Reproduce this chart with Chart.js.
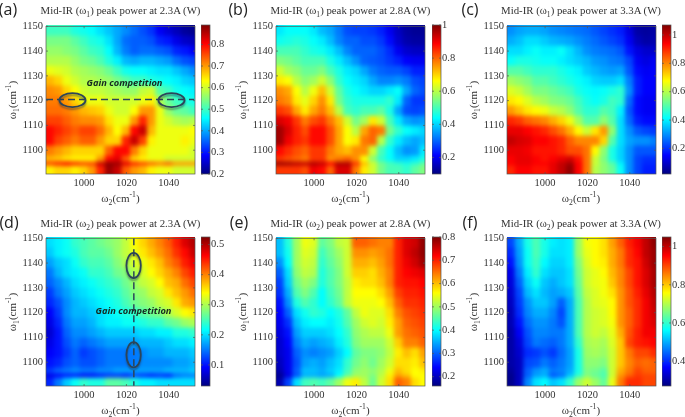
<!DOCTYPE html>
<html>
<head>
<meta charset="utf-8">
<title>Mid-IR peak power maps</title>
<script src="https://cdn.jsdelivr.net/npm/chart.js@4"></script>
<style>
	body { margin: 0; background: #fff; overflow: hidden; }
	#page { position: relative; width: 685px; height: 417px; font-family: "Liberation Serif", serif; color: #222; }
	canvas { position: absolute; }
	.heat { position: absolute; overflow: hidden; }
	.heat canvas { filter: blur(2px); }
	.txt { position: absolute; white-space: nowrap; line-height: 1; transform: translate(-50%, -50%); }
	.title { font-size: 10.8px; color: #333; }
	.axis { font-size: 11px; color: #333; }
	.yaxis { transform: translate(-50%, -50%) rotate(-90deg); }
	.letter { font-family: "Open Sans", sans-serif; font-size: 16px; color: #222; }
	.gain { font-family: "Open Sans", sans-serif; font-weight: 700; font-style: italic; font-size: 9.3px; color: #16281f; }
	sub, sup { font-size: 0.7em; line-height: 0; }
</style>
</head>
<body>
<div id="page"></div>
<script>
// wavenumbers of the map cells
const omega2 = [984, 988, 992, 996, 1000, 1004, 1008, 1012, 1016, 1020, 1024, 1028, 1032, 1036, 1040, 1044, 1048, 1052];
const omega1Edges = [1150, 1146, 1142, 1138, 1134, 1130, 1126, 1122, 1118, 1114, 1110, 1106, 1102, 1098, 1095.6, 1094, 1090];

const xTicks = [1000, 1020, 1040];
const yTicks = [1100, 1110, 1120, 1130, 1140, 1150];

const powerA = [
	[.50,.50,.50,.48,.47,.46,.44,.42,.40,.38,.36,.34,.32,.28,.26,.24,.22,.21],
	[.54,.54,.54,.52,.50,.48,.47,.44,.40,.36,.35,.35,.34,.31,.30,.27,.25,.24],
	[.56,.56,.55,.54,.52,.50,.49,.46,.41,.37,.35,.36,.36,.35,.34,.31,.30,.28],
	[.58,.58,.58,.56,.54,.53,.51,.48,.45,.41,.40,.41,.41,.40,.39,.36,.34,.33],
	[.62,.61,.60,.58,.57,.56,.55,.53,.50,.47,.46,.46,.45,.44,.44,.42,.40,.38],
	[.68,.66,.62,.60,.58,.58,.57,.56,.54,.52,.50,.50,.48,.47,.46,.45,.43,.42],
	[.71,.70,.66,.63,.60,.59,.59,.58,.57,.56,.56,.59,.60,.52,.50,.47,.46,.45],
	[.72,.72,.70,.66,.62,.62,.62,.60,.60,.60,.60,.62,.64,.58,.53,.50,.48,.47],
	[.73,.73,.72,.70,.68,.67,.66,.62,.60,.60,.63,.70,.70,.62,.56,.53,.52,.50],
	[.76,.76,.74,.72,.71,.71,.70,.65,.62,.62,.70,.78,.70,.62,.60,.58,.57,.58],
	[.80,.78,.76,.74,.76,.76,.73,.68,.63,.68,.80,.84,.68,.62,.62,.62,.62,.63],
	[.80,.76,.74,.72,.74,.74,.70,.66,.66,.78,.84,.76,.64,.62,.62,.62,.64,.62],
	[.72,.70,.68,.66,.66,.66,.66,.74,.80,.80,.72,.66,.62,.62,.62,.62,.62,.60],
	[.68,.67,.65,.64,.64,.64,.70,.80,.82,.74,.66,.64,.62,.62,.60,.60,.60,.60],
	[.76,.78,.80,.78,.76,.76,.84,.88,.87,.82,.78,.76,.74,.72,.74,.70,.70,.70],
	[.64,.66,.66,.64,.66,.70,.78,.87,.84,.74,.70,.68,.64,.62,.62,.60,.60,.60]
];
const powerB = [
	[.42,.44,.44,.44,.42,.38,.36,.32,.28,.27,.27,.26,.24,.20,.16,.13,.12,.12],
	[.45,.46,.47,.46,.44,.42,.38,.33,.30,.30,.28,.28,.26,.22,.17,.14,.13,.13],
	[.50,.50,.50,.48,.46,.45,.42,.38,.33,.30,.30,.30,.28,.25,.20,.17,.16,.16],
	[.55,.54,.52,.50,.50,.50,.46,.42,.38,.34,.30,.29,.28,.26,.24,.21,.20,.20],
	[.62,.58,.56,.53,.53,.55,.50,.46,.42,.40,.36,.32,.30,.29,.29,.27,.24,.24],
	[.68,.66,.60,.56,.58,.62,.56,.48,.44,.42,.40,.36,.33,.33,.34,.32,.28,.27],
	[.76,.74,.66,.60,.65,.72,.62,.52,.46,.44,.42,.40,.40,.42,.44,.36,.30,.28],
	[.78,.76,.68,.64,.70,.76,.68,.54,.48,.46,.46,.46,.46,.48,.42,.30,.26,.26],
	[.84,.82,.74,.68,.74,.78,.72,.60,.50,.48,.50,.50,.52,.46,.36,.28,.27,.28],
	[.92,.90,.84,.78,.82,.84,.78,.72,.62,.54,.58,.68,.62,.50,.42,.36,.34,.35],
	[.97,.92,.86,.82,.88,.88,.82,.74,.66,.60,.74,.80,.78,.54,.48,.44,.42,.40],
	[.97,.90,.86,.84,.88,.88,.82,.74,.66,.68,.78,.80,.60,.48,.42,.38,.36,.38],
	[.88,.85,.82,.80,.84,.84,.78,.74,.72,.76,.76,.62,.50,.44,.38,.34,.35,.42],
	[.84,.82,.80,.78,.84,.84,.76,.78,.80,.76,.66,.56,.48,.44,.40,.40,.42,.46],
	[.98,.97,.95,.94,.96,.94,.88,.96,.96,.84,.72,.62,.54,.50,.48,.46,.48,.52],
	[.84,.84,.84,.82,.90,.88,.80,.92,.92,.78,.68,.62,.54,.50,.50,.48,.52,.55]
];
const powerC = [
	[.30,.32,.33,.33,.32,.30,.29,.28,.27,.26,.24,.22,.20,.18,.12,.06,.05,.06],
	[.33,.35,.38,.38,.36,.34,.33,.32,.30,.28,.26,.24,.22,.20,.14,.08,.06,.07],
	[.38,.38,.40,.42,.40,.40,.42,.38,.34,.30,.28,.27,.26,.24,.17,.12,.10,.10],
	[.42,.44,.44,.43,.42,.42,.40,.38,.36,.34,.31,.30,.28,.27,.22,.14,.12,.14],
	[.50,.50,.48,.46,.46,.46,.44,.42,.40,.36,.34,.32,.31,.32,.24,.16,.14,.15],
	[.58,.56,.54,.50,.50,.48,.46,.44,.42,.40,.37,.36,.36,.38,.28,.18,.15,.15],
	[.64,.62,.58,.54,.54,.52,.50,.48,.44,.42,.41,.42,.44,.46,.30,.18,.15,.15],
	[.70,.68,.64,.60,.58,.55,.54,.52,.48,.44,.42,.44,.48,.46,.26,.16,.14,.14],
	[.78,.74,.70,.68,.66,.62,.60,.56,.50,.46,.46,.50,.48,.40,.24,.16,.14,.14],
	[.90,.88,.84,.82,.80,.76,.72,.66,.58,.50,.50,.56,.50,.38,.26,.18,.16,.16],
	[.96,.96,.94,.92,.90,.86,.82,.76,.68,.62,.70,.78,.56,.38,.30,.24,.22,.21],
	[1.0,.98,.97,.94,.94,.92,.90,.84,.80,.80,.80,.72,.50,.38,.32,.30,.30,.28],
	[.96,.96,.95,.92,.92,.92,.90,.86,.86,.82,.68,.56,.44,.37,.30,.24,.24,.24],
	[.94,.96,.96,.94,.92,.94,.96,.98,.92,.82,.62,.54,.44,.37,.30,.22,.20,.20],
	[.94,.96,.96,.94,.94,.96,1.0,1.03,.94,.82,.62,.56,.50,.40,.30,.22,.19,.19],
	[.90,.94,.94,.92,.92,.96,1.0,1.05,.94,.82,.60,.56,.52,.42,.30,.22,.18,.18]
];
const powerD = [
	[.20,.21,.22,.24,.25,.26,.27,.28,.29,.31,.34,.36,.38,.40,.42,.45,.48,.50],
	[.19,.21,.22,.23,.25,.26,.26,.27,.29,.31,.33,.35,.37,.39,.41,.44,.46,.49],
	[.17,.19,.20,.22,.24,.25,.25,.26,.28,.30,.32,.33,.35,.37,.40,.42,.45,.47],
	[.15,.18,.20,.21,.22,.24,.24,.25,.27,.28,.30,.32,.34,.36,.38,.40,.43,.45],
	[.14,.16,.18,.20,.21,.22,.23,.24,.25,.27,.29,.31,.32,.34,.37,.38,.41,.43],
	[.12,.15,.17,.19,.20,.21,.22,.23,.24,.26,.28,.29,.31,.32,.35,.37,.39,.41],
	[.11,.13,.16,.18,.19,.20,.21,.22,.23,.25,.27,.28,.29,.31,.32,.35,.38,.39],
	[.09,.12,.16,.18,.18,.19,.20,.21,.22,.23,.24,.26,.27,.28,.30,.32,.34,.35],
	[.08,.11,.15,.17,.17,.18,.20,.21,.21,.22,.22,.23,.24,.24,.26,.27,.29,.30],
	[.07,.10,.14,.16,.16,.17,.18,.19,.19,.19,.19,.20,.20,.21,.21,.23,.23,.24],
	[.08,.10,.13,.15,.14,.15,.16,.17,.17,.17,.17,.18,.18,.18,.19,.20,.20,.21],
	[.09,.10,.12,.14,.12,.13,.14,.15,.15,.15,.15,.16,.17,.17,.18,.18,.18,.19],
	[.10,.11,.13,.14,.13,.13,.14,.15,.15,.15,.15,.16,.16,.16,.16,.17,.17,.18],
	[.12,.14,.15,.16,.15,.15,.16,.16,.17,.17,.17,.17,.17,.17,.18,.18,.18,.19],
	[.08,.09,.10,.10,.09,.09,.10,.11,.11,.10,.12,.11,.10,.11,.10,.14,.15,.15],
	[.11,.15,.19,.22,.24,.23,.23,.26,.26,.25,.23,.21,.21,.20,.20,.20,.20,.20]
];
const powerE = [
	[.36,.42,.50,.55,.54,.46,.48,.52,.53,.66,.66,.65,.64,.64,.70,.74,.75,.79],
	[.36,.41,.50,.54,.53,.44,.47,.50,.53,.63,.63,.62,.63,.65,.70,.74,.76,.79],
	[.33,.40,.50,.53,.52,.43,.46,.49,.53,.61,.61,.60,.62,.65,.70,.73,.75,.78],
	[.30,.38,.49,.52,.51,.42,.45,.48,.53,.59,.59,.58,.61,.64,.70,.72,.73,.74],
	[.28,.37,.47,.50,.48,.42,.45,.48,.52,.57,.58,.58,.60,.64,.70,.71,.71,.72],
	[.27,.35,.45,.48,.45,.40,.44,.47,.52,.56,.56,.56,.58,.62,.68,.70,.70,.71],
	[.25,.33,.42,.45,.43,.40,.43,.46,.52,.55,.55,.55,.56,.60,.66,.69,.69,.70],
	[.24,.30,.38,.41,.43,.42,.40,.42,.46,.52,.55,.54,.54,.58,.64,.67,.68,.69],
	[.23,.27,.36,.39,.40,.40,.39,.41,.45,.50,.53,.54,.53,.57,.62,.66,.67,.68],
	[.22,.25,.34,.37,.37,.37,.38,.40,.43,.49,.51,.52,.52,.55,.62,.65,.66,.67],
	[.21,.24,.32,.35,.34,.35,.36,.39,.42,.48,.50,.50,.50,.53,.59,.64,.64,.66],
	[.21,.23,.30,.33,.32,.33,.34,.37,.40,.46,.48,.48,.49,.52,.57,.60,.58,.62],
	[.20,.23,.29,.34,.35,.34,.36,.38,.43,.47,.49,.47,.50,.53,.58,.58,.57,.60],
	[.19,.23,.30,.36,.36,.35,.37,.39,.44,.49,.50,.49,.51,.55,.60,.58,.56,.57],
	[.17,.22,.29,.35,.35,.34,.35,.40,.46,.50,.50,.48,.52,.57,.62,.60,.56,.56],
	[.19,.28,.38,.44,.45,.44,.46,.50,.55,.57,.52,.47,.53,.58,.66,.64,.58,.56]
];
const powerF = [
	[.42,.50,.58,.62,.58,.55,.54,.55,.68,.75,.76,.78,.83,.88,.93,.96,1.0,1.04],
	[.40,.49,.57,.62,.58,.54,.54,.55,.68,.74,.76,.78,.82,.86,.92,.95,1.0,1.03],
	[.38,.48,.57,.61,.56,.53,.53,.55,.66,.73,.76,.77,.82,.86,.92,.94,.99,1.03],
	[.35,.46,.55,.60,.54,.52,.52,.54,.65,.72,.74,.76,.81,.85,.90,.94,.98,1.02],
	[.34,.44,.53,.57,.52,.50,.52,.54,.64,.72,.74,.75,.80,.85,.90,.94,.98,1.02],
	[.33,.42,.51,.54,.51,.49,.50,.52,.63,.71,.73,.75,.78,.84,.89,.93,.97,1.01],
	[.32,.41,.48,.52,.52,.49,.44,.50,.62,.70,.73,.74,.76,.84,.89,.92,.96,1.00],
	[.31,.40,.47,.50,.50,.47,.42,.50,.62,.70,.72,.73,.76,.84,.88,.92,.96,.99],
	[.31,.38,.45,.48,.48,.46,.43,.50,.62,.70,.72,.73,.75,.84,.88,.92,.96,.98],
	[.30,.36,.43,.47,.47,.46,.46,.50,.62,.70,.72,.71,.74,.82,.89,.93,.96,.96],
	[.30,.34,.42,.46,.45,.44,.46,.50,.60,.69,.70,.69,.73,.80,.90,.93,.94,.95],
	[.30,.33,.40,.41,.43,.41,.45,.49,.58,.68,.69,.68,.72,.80,.86,.90,.90,.92],
	[.30,.32,.42,.43,.46,.44,.46,.49,.58,.67,.67,.66,.72,.80,.85,.88,.87,.88],
	[.29,.32,.44,.48,.50,.46,.47,.50,.58,.66,.65,.63,.72,.82,.86,.90,.88,.88],
	[.28,.32,.44,.49,.50,.43,.45,.52,.60,.66,.64,.62,.72,.84,.88,.91,.90,.90],
	[.28,.32,.47,.54,.56,.52,.54,.60,.68,.72,.68,.64,.74,.86,.92,.92,.90,.90]
];

const ticksA = [.2, .3, .4, .5, .6, .7, .8];
const ticksB = [.2, .4, .6, .8, 1];
const ticksC = [.2, .4, .6, .8, 1];
const ticksD = [.1, .2, .3, .4, .5];
const ticksE = [.2, .3, .4, .5, .6, .7, .8];
const ticksF = [.4, .6, .8, 1];

const rangeA = [.2, .89];
const rangeB = [.1, 1];
const rangeC = [.02, 1.07];
const rangeD = [.03, .525];
const rangeE = [.16, .8];
const rangeF = [.27, 1.05];

const annotationColor = '#2c4559';
const panels = [
	{ id: 'a', beam: 1, current: '2.3', z: powerA, ticks: ticksA, range: rangeA, left: 46, top: 24.5, cbLeft: 201,
		line: [{ x: 982, y: 1120.5 }, { x: 1052, y: 1120.5 }],
		rings: [{ x: 994.5, y: 1120.2, rx: 6.2, ry: 2.8 }, { x: 1041.3, y: 1120.2, rx: 6.2, ry: 2.8 }],
		gain: [124.5, 83] },
	{ id: 'b', beam: 1, current: '2.8', z: powerB, ticks: ticksB, range: rangeB, left: 276, top: 24.5, cbLeft: 432 },
	{ id: 'c', beam: 1, current: '3.3', z: powerC, ticks: ticksC, range: rangeC, left: 506.5, top: 24.5, cbLeft: 662 },
	{ id: 'd', beam: 2, current: '2.3', z: powerD, ticks: ticksD, range: rangeD, left: 46, top: 237, cbLeft: 201,
		line: [{ x: 1023.5, y: 1150 }, { x: 1023.5, y: 1090.5 }],
		rings: [{ x: 1023.4, y: 1139, rx: 3.4, ry: 5.1 }, { x: 1023.4, y: 1103, rx: 3.4, ry: 5.1 }],
		gain: [133.5, 310.5] },
	{ id: 'e', beam: 2, current: '2.8', z: powerE, ticks: ticksE, range: rangeE, left: 276, top: 237, cbLeft: 432 },
	{ id: 'f', beam: 2, current: '3.3', z: powerF, ticks: ticksF, range: rangeF, left: 506.5, top: 237, cbLeft: 662 }
];

const letterPos = { a: [8, 9], b: [238, 9], c: [470, 9], d: [9, 222], e: [239, 222], f: [470, 222] };

const xMin = 982, xMax = 1052.4, yMin = 1090.4, yMax = 1150;
const plotW = 149, plotH = 149, barW = 9, marginL = 42, marginT = 8, marginB = 20, cbMarginR = 24;
const bleed = 8; // px of extra map under the clip so the blur keeps its edges
const page = document.getElementById('page');
const tickFont = { family: 'Liberation Serif', size: 10.5 };

function jet(t) {
	t = Math.max(0, Math.min(1, t));
	const ch = (c) => Math.round(255 * Math.max(0, Math.min(1, 1.5 - Math.abs(4 * t - c))));
	return `rgb(${ch(3)},${ch(2)},${ch(1)})`;
}

function addText(html, x, y, cls) {
	const el = document.createElement('div');
	el.className = 'txt ' + cls;
	el.innerHTML = html;
	el.style.left = x + 'px';
	el.style.top = y + 'px';
	page.appendChild(el);
}

function addCanvas(parent, left, top, width, height) {
	const c = document.createElement('canvas');
	c.width = width;
	c.height = height;
	c.style.left = left + 'px';
	c.style.top = top + 'px';
	c.style.width = width + 'px';
	c.style.height = height + 'px';
	parent.appendChild(c);
	return c;
}

// box and short inward ticks, matlab style
const framePlugin = {
	id: 'frame',
	afterDatasetsDraw(chart) {
		const { ctx, chartArea: a, scales } = chart;
		ctx.save();
		ctx.strokeStyle = '#555';
		ctx.lineWidth = 0.7;
		ctx.strokeRect(a.left, a.top, a.right - a.left, a.bottom - a.top);
		ctx.beginPath();
		if (scales.x.options.display) {
			scales.x.ticks.forEach((t) => {
				const px = scales.x.getPixelForValue(t.value);
				ctx.moveTo(px, a.bottom); ctx.lineTo(px, a.bottom - 2);
				ctx.moveTo(px, a.top); ctx.lineTo(px, a.top + 2);
			});
		}
		scales.y.ticks.forEach((t) => {
			const py = scales.y.getPixelForValue(t.value);
			ctx.moveTo(a.left, py); ctx.lineTo(a.left + 2, py);
			ctx.moveTo(a.right, py); ctx.lineTo(a.right - 2, py);
		});
		ctx.stroke();
		ctx.restore();
	}
};

const ringPlugin = {
	id: 'rings',
	afterDatasetsDraw(chart, args, opts) {
		if (!opts.items) return;
		const { ctx, scales: { x, y } } = chart;
		ctx.save();
		ctx.strokeStyle = annotationColor;
		ctx.lineWidth = 1.7;
		ctx.shadowColor = 'rgba(40,50,70,0.55)';
		ctx.shadowBlur = 2;
		ctx.shadowOffsetY = 2;
		opts.items.forEach((r) => {
			const cx = x.getPixelForValue(r.x), cy = y.getPixelForValue(r.y);
			const rx = Math.abs(x.getPixelForValue(r.x + r.rx) - cx), ry = Math.abs(y.getPixelForValue(r.y + r.ry) - cy);
			ctx.beginPath();
			ctx.ellipse(cx, cy, rx, ry, 0, 0, Math.PI * 2);
			ctx.stroke();
		});
		ctx.restore();
	}
};

const gradientPlugin = {
	id: 'colorRamp',
	beforeDatasetsDraw(chart) {
		const { ctx, chartArea: a } = chart;
		const g = ctx.createLinearGradient(0, a.bottom, 0, a.top);
		for (let i = 0; i <= 32; i++) g.addColorStop(i / 32, jet(i / 32));
		ctx.fillStyle = g;
		ctx.fillRect(a.left, a.top, a.right - a.left, a.bottom - a.top);
	}
};

// the cells, blurred a little and clipped to the plot box
function drawHeat(p) {
	const [lo, hi] = p.range;
	const wrap = document.createElement('div');
	wrap.className = 'heat';
	wrap.style.cssText = `left:${p.left}px;top:${p.top}px;width:${plotW}px;height:${plotH}px`;
	page.appendChild(wrap);
	const dx = bleed * (xMax - xMin) / plotW, dy = bleed * (yMax - yMin) / plotH;
	// repeat the edge cells past the axes, only for the blur
	const cols = [omega2[0] - 8, omega2[0] - 4, ...omega2, omega2[17] + 4, omega2[17] + 8];
	const pad = (row) => [row[0], row[0], ...row, row[17], row[17]];
	const rows = [p.z[0], ...p.z, p.z[15]];
	const edges = [yMax + 20, ...omega1Edges.slice(0, 16), yMin, yMin - 20];
	const datasets = rows.map((row, r) => ({
		data: cols.map((x) => ({ x, y: [edges[r + 1], edges[r]] })),
		backgroundColor: pad(row).map((v) => jet((v - lo) / (hi - lo))),
		borderWidth: 0,
		inflateAmount: 0.6,
		grouped: false,
		barPercentage: 1,
		categoryPercentage: 1
	}));
	new Chart(addCanvas(wrap, -bleed, -bleed, plotW + 2 * bleed, plotH + 2 * bleed), {
		type: 'bar',
		data: { datasets },
		options: {
			responsive: false,
			animation: false,
			plugins: { legend: { display: false }, tooltip: { enabled: false } },
			scales: {
				x: { type: 'linear', offset: false, display: false, min: xMin - dx, max: xMax + dx },
				y: { type: 'linear', display: false, min: yMin - dy, max: yMax + dy }
			}
		}
	});
}

function drawAxes(p) {
	const datasets = p.line ? [{
		data: p.line,
		borderColor: annotationColor,
		borderWidth: 1.5,
		borderDash: [7, 4],
		pointRadius: 0
	}] : [];
	const canvas = addCanvas(page, p.left - marginL, p.top - marginT, marginL + plotW + 2, marginT + plotH + marginB);
	new Chart(canvas, {
		type: 'line',
		data: { datasets },
		plugins: [framePlugin, ringPlugin],
		options: {
			responsive: false,
			animation: false,
			layout: { padding: { top: marginT, right: 2 } },
			plugins: { legend: { display: false }, tooltip: { enabled: false }, rings: { items: p.rings } },
			scales: {
				x: {
					type: 'linear', min: xMin, max: xMax,
					grid: { display: false, drawTicks: false }, border: { display: false },
					afterBuildTicks: (s) => { s.ticks = xTicks.map((value) => ({ value })); },
					afterFit: (s) => { s.height = marginB; },
					ticks: { font: tickFont, color: '#333', padding: 3, maxRotation: 0, autoSkip: false, callback: (v) => String(v) }
				},
				y: {
					type: 'linear', min: yMin, max: yMax,
					grid: { display: false, drawTicks: false }, border: { display: false },
					afterBuildTicks: (s) => { s.ticks = yTicks.map((value) => ({ value })); },
					afterFit: (s) => { s.width = marginL; },
					ticks: { font: tickFont, color: '#333', padding: 3, autoSkip: false, callback: (v) => String(v) }
				}
			}
		}
	});
}

function drawColorBar(p) {
	const canvas = addCanvas(page, p.cbLeft, p.top - marginT, barW + cbMarginR, marginT + plotH + marginB);
	new Chart(canvas, {
		type: 'bar',
		data: { datasets: [] },
		plugins: [gradientPlugin, framePlugin],
		options: {
			responsive: false,
			animation: false,
			layout: { padding: { top: marginT, bottom: marginB } },
			plugins: { legend: { display: false }, tooltip: { enabled: false } },
			scales: {
				x: { display: false },
				y: {
					type: 'linear', position: 'right', min: p.range[0], max: p.range[1],
					grid: { display: false, drawTicks: false }, border: { display: false },
					afterBuildTicks: (s) => { s.ticks = p.ticks.map((value) => ({ value })); },
					afterFit: (s) => { s.width = cbMarginR; },
					ticks: { font: tickFont, color: '#333', padding: 1, autoSkip: false, callback: (v) => String(v) }
				}
			}
		}
	});
}

panels.forEach((p) => {
	drawHeat(p);
	drawAxes(p);
	drawColorBar(p);
	const midX = p.left + plotW / 2;
	addText(`Mid-IR (ω<sub>${p.beam}</sub>) peak power at ${p.current}A (W)`, midX, p.top - 14.5, 'title');
	addText('ω<sub>2</sub>(cm<sup>-1</sup>)', midX, p.top + plotH + 24, 'axis');
	addText('ω<sub>1</sub>(cm<sup>-1</sup>)', p.left - 34, p.top + 75, 'axis yaxis');
	addText(`(${p.id})`, letterPos[p.id][0], letterPos[p.id][1], 'letter');
	if (p.gain) addText('Gain competition', p.gain[0], p.gain[1], 'gain');
});
</script>
</body>
</html>
